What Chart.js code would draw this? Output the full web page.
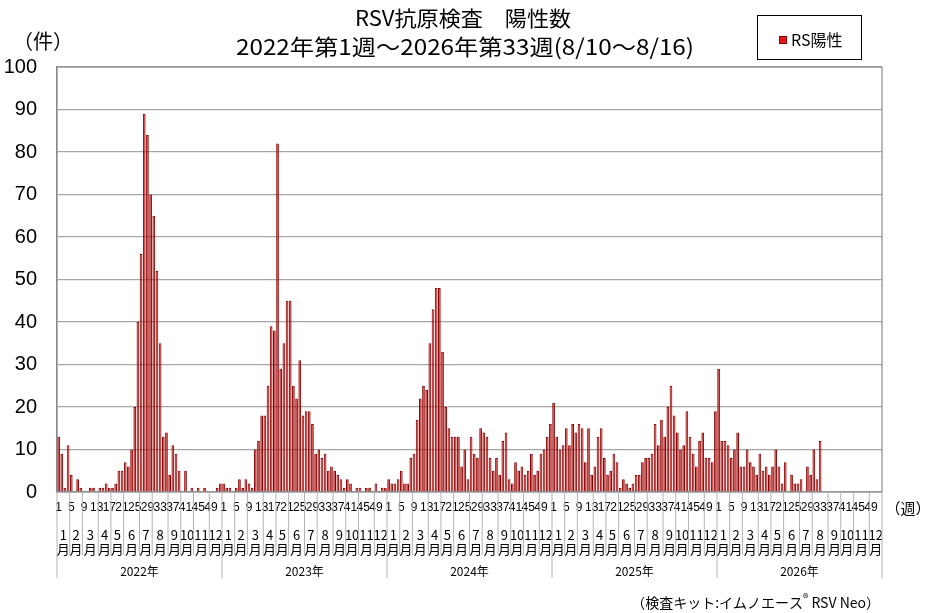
<!DOCTYPE html>
<html lang="ja">
<head>
<meta charset="utf-8">
<title>RSV抗原検査 陽性数</title>
<script src="https://cdn.jsdelivr.net/npm/chart.js@4.4.1/dist/chart.umd.min.js"></script>
<style>
  html, body { margin: 0; padding: 0; background: #fff; }
  #rsv-chart { display: block; }
</style>
</head>
<body>
<canvas id="rsv-chart" width="926" height="613"></canvas>
<script>
const years = ['2022', '2023', '2024', '2025', '2026'];
const weekTicks = [1, 5, 9, 13, 17, 21, 25, 29, 33, 37, 41, 45, 49];
const monthWeeks = [4, 4, 5, 4, 4, 5, 4, 5, 4, 4, 5, 4];
const yTicks = [0, 10, 20, 30, 40, 50, 60, 70, 80, 90, 100];

// weekly positives per year (2026 only up to week 33)
const rs2022 = [13, 9, 1, 11, 4, 0, 3, 1, 0, 0, 1, 1, 0, 1, 1, 2, 1, 1, 2, 5,
    5, 7, 6, 10, 20, 40, 56, 89, 84, 70, 65, 52, 35, 13, 14, 4, 11, 9, 5, 0,
    5, 0, 1, 0, 1, 0, 1, 0, 0, 0, 1, 2];
const rs2023 = [2, 1, 1, 0, 1, 3, 1, 3, 2, 1, 10, 12, 18, 18, 25, 39, 38, 82, 29, 35,
    45, 45, 25, 22, 31, 18, 19, 19, 16, 9, 10, 8, 9, 5, 6, 5, 4, 3, 1, 3,
    2, 0, 1, 1, 0, 1, 1, 0, 2, 0, 1, 1];
const rs2024 = [3, 2, 2, 3, 5, 2, 2, 8, 9, 17, 22, 25, 24, 35, 43, 48, 48, 33, 20, 15,
    13, 13, 13, 6, 10, 3, 13, 9, 8, 15, 14, 13, 8, 5, 8, 4, 12, 14, 3, 2,
    7, 5, 6, 4, 5, 9, 4, 5, 9, 10, 13, 16];
const rs2025 = [21, 13, 10, 11, 15, 11, 16, 14, 16, 15, 7, 15, 4, 6, 13, 15, 8, 4, 5, 9,
    7, 1, 3, 2, 1, 2, 4, 4, 7, 8, 8, 9, 16, 11, 17, 13, 20, 25, 18, 14,
    10, 11, 19, 13, 9, 6, 12, 14, 8, 8, 7, 19];
const rs2026 = [29, 12, 12, 11, 8, 10, 14, 6, 6, 10, 7, 6, 4, 9, 5, 6, 4, 6, 10, 6,
    2, 7, 0, 4, 2, 2, 3, 0, 6, 4, 10, 3, 12];

const WEEKS = 52;
const CJK = "'Noto Sans CJK JP', sans-serif";

function start() {
    const series = [rs2022, rs2023, rs2024, rs2025, rs2026];
    const labels = [];
    const values = [];
    years.forEach((year, y) => {
        for (let w = 1; w <= WEEKS; w++) {
            labels.push(year + '-' + w);
            const v = series[y][w - 1];
            values.push(v === undefined ? null : v);
        }
    });

    // draws text centred at (cx, cy), squeezed or stretched to the given width
    function fitText(ctx, text, cx, cy, width) {
        const w = ctx.measureText(text).width;
        ctx.save();
        ctx.translate(cx, cy);
        ctx.scale(width / w, 1);
        ctx.fillText(text, 0, 0);
        ctx.restore();
    }

    const decorations = {
        id: 'decorations',
        afterDraw(chart) {
            const ctx = chart.ctx;
            const area = chart.chartArea;
            const xs = chart.scales.x;
            const pitch = xs.getPixelForValue(1) - xs.getPixelForValue(0);
            const edge = i => xs.getPixelForValue(i) - pitch / 2;

            ctx.save();
            // frame of the plot
            ctx.strokeStyle = '#8c8c8c';
            ctx.lineWidth = 1.2;
            ctx.strokeRect(area.left, area.top, area.right - area.left, area.bottom - area.top);

            // month and year rows under the week numbers
            ctx.strokeStyle = '#b4b4b4';
            ctx.lineWidth = 1;
            ctx.fillStyle = '#000';
            ctx.textAlign = 'center';
            ctx.textBaseline = 'middle';
            years.forEach((year, y) => {
                let idx = y * WEEKS;
                const yearStart = edge(idx);
                ctx.beginPath();
                ctx.moveTo(yearStart, area.bottom);
                ctx.lineTo(yearStart, 578);
                ctx.stroke();
                monthWeeks.forEach((n, m) => {
                    const a = edge(idx);
                    const b = edge(idx + n);
                    if (m > 0) {
                        ctx.beginPath();
                        ctx.moveTo(a, area.bottom);
                        ctx.lineTo(a, 555);
                        ctx.stroke();
                    }
                    ctx.font = '13px ' + CJK;
                    ctx.fillText(String(m + 1), (a + b) / 2, 535);
                    ctx.fillText('月', (a + b) / 2, 549);
                    idx += n;
                });
                ctx.font = '12px ' + CJK;
                ctx.fillText(year + '年', (yearStart + edge(idx)) / 2, 571);
            });
            ctx.beginPath();
            ctx.moveTo(area.right, area.bottom);
            ctx.lineTo(area.right, 578);
            ctx.stroke();

            // titles
            ctx.font = '21px ' + CJK;
            fitText(ctx, 'RSV抗原検査　陽性数', 463, 18, 216);
            ctx.font = '22px ' + CJK;
            fitText(ctx, '2022年第1週～2026年第33週(8/10～8/16)', 465, 47, 458);

            // unit labels
            ctx.font = '20px ' + CJK;
            ctx.fillText('（件）', 43, 41);
            ctx.font = '15px ' + CJK;
            ctx.fillText('（週）', 908, 508);

            // legend box
            const ds = chart.data.datasets[0];
            ctx.strokeStyle = '#000';
            ctx.strokeRect(757.5, 15.5, 104, 44);
            ctx.fillStyle = '#e01a1a';
            ctx.fillRect(779, 36, 8, 8);
            ctx.strokeStyle = ds.borderColor;
            ctx.strokeRect(779.5, 36.5, 7, 7);
            ctx.fillStyle = '#000';
            ctx.textAlign = 'left';
            ctx.font = '16px ' + CJK;
            ctx.fillText(ds.label, 791, 40);

            // footnote
            const parts = ['（検査キット:イムノエース', '®', ' RSV Neo）'];
            ctx.font = '14px ' + CJK;
            const w0 = ctx.measureText(parts[0]).width;
            const w2 = ctx.measureText(parts[2]).width;
            ctx.font = '11px ' + CJK;
            const w1 = ctx.measureText(parts[1]).width;
            let px = 880 - w0 - w1 - w2;
            ctx.font = '14px ' + CJK;
            ctx.fillText(parts[0], px, 603);
            px += w0;
            ctx.font = '11px ' + CJK;
            ctx.fillText(parts[1], px, 598);
            px += w1;
            ctx.font = '14px ' + CJK;
            ctx.fillText(parts[2], px, 603);
            ctx.restore();
        }
    };

    const ctx = document.getElementById('rsv-chart').getContext('2d');
    new Chart(ctx, {
        type: 'bar',
        data: {
            labels: labels,
            datasets: [{
                label: 'RS陽性',
                data: values,
                backgroundColor: '#c62c2c',
                borderColor: '#8e0000',
                borderWidth: 1,
                barPercentage: 0.85,
                categoryPercentage: 1.0
            }]
        },
        options: {
            responsive: false,
            animation: false,
            devicePixelRatio: 1,
            layout: { padding: { top: 67, right: 44, bottom: 0, left: 0 } },
            plugins: {
                legend: { display: false },
                title: { display: false },
                tooltip: { enabled: false }
            },
            scales: {
                x: {
                    grid: { display: false, drawTicks: false },
                    border: { display: false },
                    ticks: {
                        autoSkip: false,
                        maxRotation: 0,
                        minRotation: 0,
                        padding: 8,
                        color: '#000',
                        font: { size: 12, family: "'Liberation Sans', sans-serif" },
                        callback: function (value, index) {
                            const w = index % WEEKS + 1;
                            return weekTicks.includes(w) ? String(w) : '';
                        }
                    },
                    afterFit: function (scale) { scale.height = 121; }
                },
                y: {
                    min: 0,
                    max: 100,
                    afterBuildTicks: function (scale) {
                        scale.ticks = yTicks.map(v => ({ value: v }));
                    },
                    grid: { color: '#a6a6a6', lineWidth: 1.2, drawTicks: false },
                    border: { display: true, color: '#8c8c8c', width: 1.2 },
                    ticks: {
                        padding: 20,
                        color: '#000',
                        font: { size: 20, family: "'Liberation Sans', sans-serif" }
                    },
                    afterFit: function (scale) { scale.width = 57; }
                }
            }
        },
        plugins: [decorations]
    });
}

window.addEventListener('load', start, false);
</script>
</body>
</html>
